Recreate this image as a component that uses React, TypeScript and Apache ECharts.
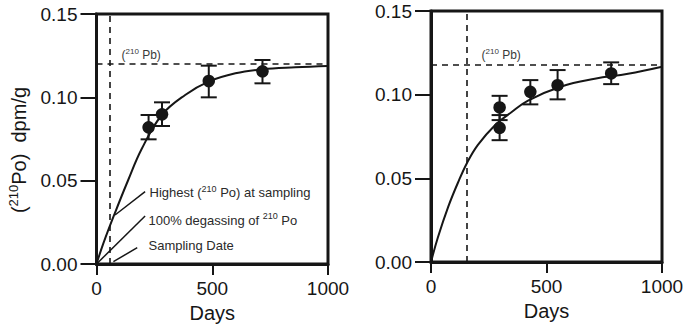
import React, { useEffect, useRef } from "react";
import * as echarts from "echarts";

// Left panel: measured 210Po activity with ingrowth curve
const LEFT_CURVE_DAYS = [0, 30, 79, 137, 195, 282, 383, 484, 600, 715, 859, 1000];
const LEFT_CURVE_VALUES = [0, 0.0125, 0.0304, 0.0504, 0.069, 0.0894, 0.1014, 0.1094, 0.1144, 0.1168, 0.118, 0.1188];
const LEFT_POINT_DAYS = [225, 283, 485, 717];
const LEFT_POINT_VALUES = [0.082, 0.0898, 0.1098, 0.1156];
const LEFT_ERR_LOW = [0.0748, 0.0828, 0.1, 0.1084];
const LEFT_ERR_HIGH = [0.0894, 0.097, 0.119, 0.1224];
const LEFT_PB_LEVEL = 0.12;
const LEFT_SAMPLING_DAY = 58;
// leader lines for the annotations: [day, dpm/g] start and end
const LEFT_LEADERS = [
  [[80, 0.0294], [210, 0.0434]],
  [[0, 0.0], [210, 0.0288]],
  [[73, 0.0014], [176, 0.0098]],
];

// Right panel
const RIGHT_CURVE_DAYS = [0, 30, 74, 117, 157, 203, 276, 348, 420, 564, 709, 853, 1000];
const RIGHT_CURVE_VALUES = [0, 0.0148, 0.0328, 0.0475, 0.0595, 0.07, 0.0816, 0.0895, 0.0965, 0.1049, 0.1095, 0.1125, 0.1167];
const RIGHT_POINT_DAYS = [297, 297, 430, 548, 780];
const RIGHT_POINT_VALUES = [0.0802, 0.0924, 0.1017, 0.1057, 0.1127];
const RIGHT_ERR_LOW = [0.0728, 0.0848, 0.0942, 0.0972, 0.1063];
const RIGHT_ERR_HIGH = [0.0878, 0.0993, 0.1087, 0.1147, 0.1193];
const RIGHT_PB_LEVEL = 0.1177;
const RIGHT_SAMPLING_DAY = 155;

const Y_TICKS = [0, 0.05, 0.1, 0.15];
const X_TICKS = [0, 500, 1000];

const FONT = "'Liberation Sans', Arial, sans-serif";
const INK = "#161616";

const zip = (a: number[], b: number[]) => a.map((v, i) => [v, b[i]]);

function errorBarItem(params: any, api: any) {
  const x = api.value(0);
  const top = api.coord([x, api.value(2)]);
  const bot = api.coord([x, api.value(1)]);
  const hw = 8;
  const style = { stroke: INK, lineWidth: 2 };
  return {
    type: "group",
    children: [
      { type: "line", shape: { x1: top[0], y1: top[1], x2: bot[0], y2: bot[1] }, style },
      { type: "line", shape: { x1: top[0] - hw, y1: top[1], x2: top[0] + hw, y2: top[1] }, style },
      { type: "line", shape: { x1: bot[0] - hw, y1: bot[1], x2: bot[0] + hw, y2: bot[1] }, style },
    ],
  };
}

function xAxisFor(gridIndex: number) {
  return {
    type: "value",
    gridIndex,
    min: X_TICKS[0],
    max: X_TICKS[X_TICKS.length - 1],
    interval: 500,
    name: "Days",
    nameLocation: "middle",
    nameGap: 36,
    nameTextStyle: { fontSize: 20, color: INK, fontFamily: FONT },
    splitLine: { show: false },
    axisLine: { show: true, lineStyle: { color: INK, width: 3 } },
    axisTick: { show: true, inside: false, length: 11, lineStyle: { color: INK, width: 2 } },
    axisLabel: {
      fontSize: 19,
      color: INK,
      fontFamily: FONT,
      margin: 15,
      showMinLabel: true,
      showMaxLabel: true,
      formatter: (v: number) => String(v),
    },
  };
}

function yAxisFor(gridIndex: number) {
  return {
    type: "value",
    gridIndex,
    min: Y_TICKS[0],
    max: Y_TICKS[Y_TICKS.length - 1],
    interval: 0.05,
    splitLine: { show: false },
    axisLine: { show: true, lineStyle: { color: INK, width: 3 } },
    axisTick: { show: true, inside: false, length: 16, lineStyle: { color: INK, width: 2 } },
    axisLabel: {
      fontSize: 19,
      color: INK,
      fontFamily: FONT,
      margin: 19,
      showMinLabel: true,
      showMaxLabel: true,
      formatter: (v: number) => v.toFixed(2),
    },
  };
}

const dashed = { type: [6, 5], color: INK, width: 1.6 };
const leaderStyle = { type: "solid", color: INK, width: 1.5 };

function panelSeries(
  idx: number,
  curveDays: number[],
  curveValues: number[],
  pointDays: number[],
  pointValues: number[],
  errLow: number[],
  errHigh: number[],
  pbLevel: number,
  samplingDay: number,
  leaders: number[][][]
) {
  return [
    {
      type: "line",
      xAxisIndex: idx,
      yAxisIndex: idx,
      data: zip(curveDays, curveValues),
      smooth: 0.4,
      showSymbol: false,
      symbol: "none",
      lineStyle: { color: INK, width: 2 },
      z: 3,
      markLine: {
        silent: true,
        precision: 4,
        symbol: ["none", "none"],
        label: { show: false },
        data: [
          { xAxis: samplingDay, lineStyle: dashed },
          { yAxis: pbLevel, lineStyle: dashed },
          ...leaders.map((l) => [
            { coord: l[0], lineStyle: leaderStyle },
            { coord: l[1], lineStyle: leaderStyle },
          ]),
        ],
      },
    },
    {
      type: "custom",
      xAxisIndex: idx,
      yAxisIndex: idx,
      renderItem: errorBarItem,
      encode: { x: 0, y: [1, 2] },
      data: pointDays.map((d, i) => [d, errLow[i], errHigh[i]]),
      z: 4,
    },
    {
      type: "scatter",
      xAxisIndex: idx,
      yAxisIndex: idx,
      data: zip(pointDays, pointValues),
      symbol: "circle",
      symbolSize: 12.5,
      itemStyle: { color: INK, opacity: 1 },
      z: 5,
    },
  ];
}

function supText(x: number, y: number, parts: [string, string, string], size: number, color: string) {
  return {
    type: "text",
    x,
    y,
    silent: true,
    style: {
      text: `{a|${parts[0]}}{s|${parts[1]}}{a|${parts[2]}}`,
      align: "left",
      verticalAlign: "middle",
      rich: {
        a: { fontSize: size, fill: color, fontFamily: FONT, lineHeight: size + 4 },
        s: { fontSize: Math.round(size * 0.66), fill: color, fontFamily: FONT, verticalAlign: "top" },
      },
    },
  };
}

export default function App() {
  const ref = useRef<HTMLDivElement>(null);

  useEffect(() => {
    if (!ref.current) return;
    const chart = echarts.init(ref.current, undefined, { renderer: "svg" });
    const option: any = {
      animation: false,
      backgroundColor: "#ffffff",
      grid: [
        { left: 96.5, top: 14, width: 231.5, height: 250, show: true, borderColor: INK, borderWidth: 3, outerBoundsMode: "none", containLabel: false },
        { left: 431, top: 11, width: 231, height: 251, show: true, borderColor: INK, borderWidth: 3, outerBoundsMode: "none", containLabel: false },
      ],
      xAxis: [xAxisFor(0), xAxisFor(1)],
      yAxis: [yAxisFor(0), yAxisFor(1)],
      series: [
        ...panelSeries(0, LEFT_CURVE_DAYS, LEFT_CURVE_VALUES, LEFT_POINT_DAYS, LEFT_POINT_VALUES, LEFT_ERR_LOW, LEFT_ERR_HIGH, LEFT_PB_LEVEL, LEFT_SAMPLING_DAY, LEFT_LEADERS),
        ...panelSeries(1, RIGHT_CURVE_DAYS, RIGHT_CURVE_VALUES, RIGHT_POINT_DAYS, RIGHT_POINT_VALUES, RIGHT_ERR_LOW, RIGHT_ERR_HIGH, RIGHT_PB_LEVEL, RIGHT_SAMPLING_DAY, []),
      ],
      graphic: [
        {
          type: "text",
          x: 19,
          y: 150,
          rotation: Math.PI / 2,
          silent: true,
          style: {
            text: "{a|(}{s|210}{a|Po)  dpm/g}",
            align: "center",
            verticalAlign: "middle",
            rich: {
              a: { fontSize: 20, fill: INK, fontFamily: FONT, lineHeight: 24 },
              s: { fontSize: 13, fill: INK, fontFamily: FONT, verticalAlign: "top" },
            },
          },
        },
        supText(121.5, 55, ["(", "210", " Pb)"], 12, "#3a3a3a"),
        supText(481.5, 55, ["(", "210", " Pb)"], 12, "#3a3a3a"),
        supText(149.5, 192.5, ["Highest (", "210", " Po) at sampling"], 13, "#2a2a2a"),
        supText(148.5, 220, ["100% degassing of ", "210", " Po"], 13, "#2a2a2a"),
        {
          type: "text",
          x: 148.5,
          y: 245.5,
          silent: true,
          style: { text: "Sampling Date", fontSize: 13, fill: "#2a2a2a", fontFamily: FONT, align: "left", verticalAlign: "middle" },
        },
      ],
    };
    chart.setOption(option);
    return () => chart.dispose();
  }, []);

  return (
    <div
      ref={ref}
      style={{ position: "fixed", left: 0, top: 0, width: 688, height: 324, background: "#fff" }}
    />
  );
}
